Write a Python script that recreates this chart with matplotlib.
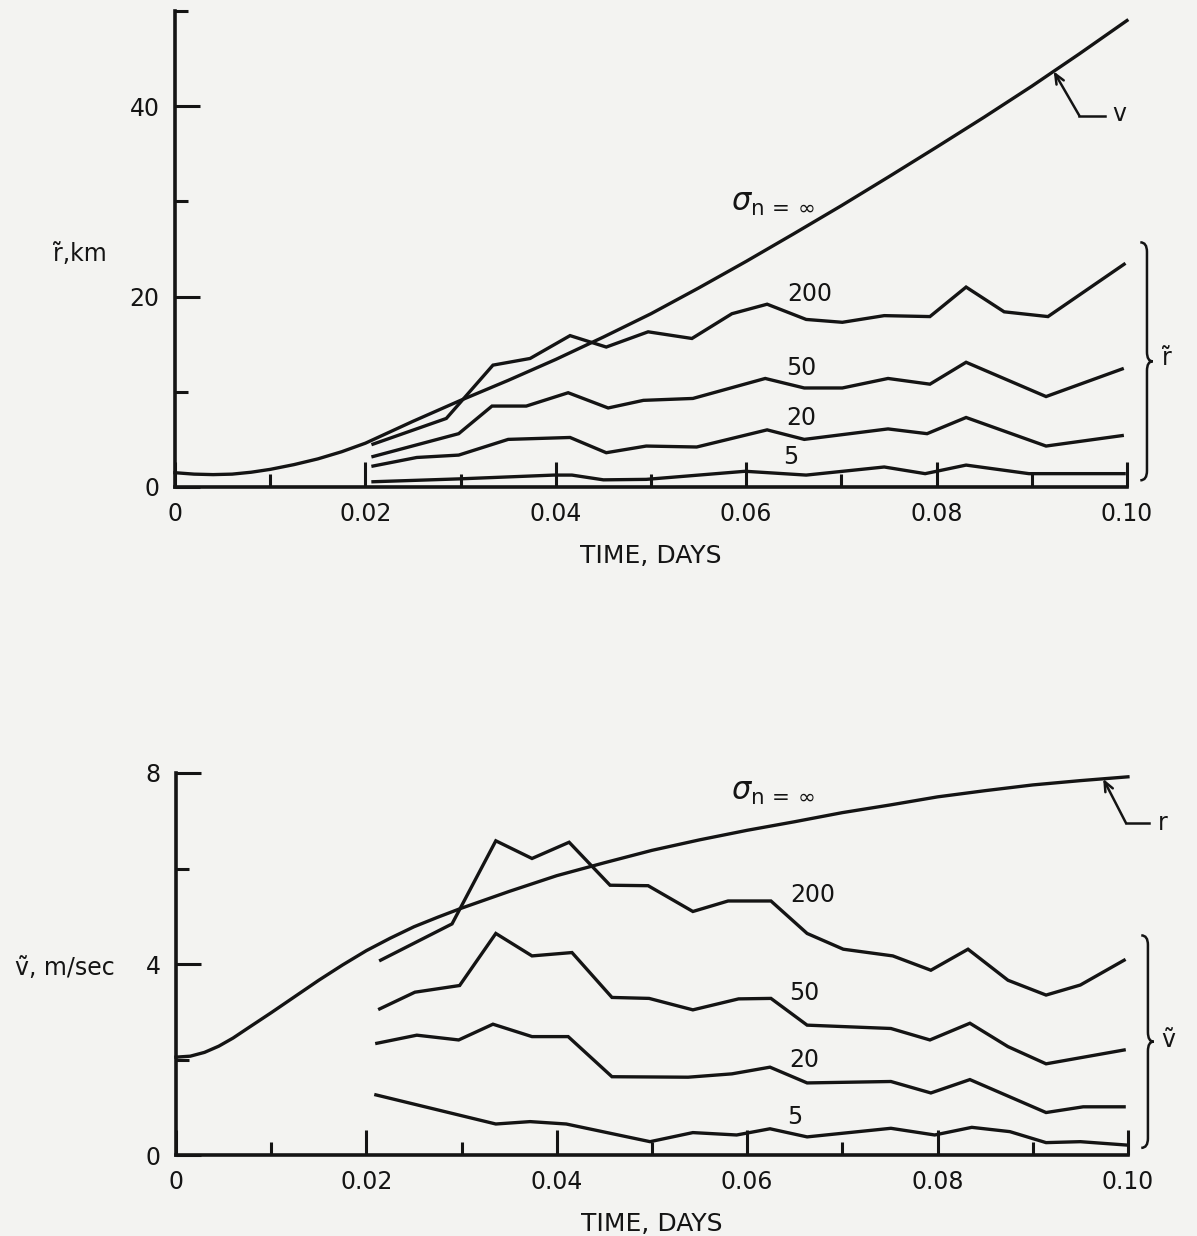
import numpy as np
import matplotlib
matplotlib.use("Agg")
import matplotlib.pyplot as plt
from matplotlib.path import Path
from matplotlib.patches import PathPatch

plt.rcParams['font.family'] = ['DejaVu Sans']
plt.rcParams['mathtext.fontset'] = 'dejavusans'

INK = '#141414'
PAPER = '#f3f3f1'

# ---- upper panel: r~ (km) vs time (days) ----
r_inf_t = [0, 0.002, 0.004, 0.006, 0.008, 0.01, 0.0125, 0.015, 0.0175, 0.02, 0.025,
           0.03, 0.035, 0.04, 0.045, 0.05, 0.055, 0.06, 0.065, 0.07, 0.075, 0.08,
           0.085, 0.09, 0.095, 0.10]
r_inf = [1.5, 1.35, 1.3, 1.35, 1.55, 1.85, 2.35, 2.95, 3.7, 4.6, 6.9, 9.1, 11.2,
         13.4, 15.75, 18.2, 20.9, 23.7, 26.6, 29.55, 32.6, 35.7, 38.85, 42.1, 45.5,
         49.0]

r200_t = [0.0208, 0.0285, 0.0334, 0.0373, 0.0415, 0.0453, 0.0497, 0.0543, 0.0585,
          0.0622, 0.0663, 0.0701, 0.0745, 0.0793, 0.0831, 0.0871, 0.0917, 0.0997]
r200 = [4.5, 7.2, 12.8, 13.5, 15.9, 14.7, 16.3, 15.6, 18.2, 19.2, 17.6, 17.3, 18.0,
        17.9, 21.0, 18.4, 17.9, 23.4]

r50_t = [0.0208, 0.0298, 0.0333, 0.0369, 0.0413, 0.0455, 0.0492, 0.0544, 0.0620,
         0.0661, 0.0701, 0.0749, 0.0793, 0.0831, 0.0915, 0.0995]
r50 = [3.2, 5.6, 8.5, 8.5, 9.9, 8.3, 9.1, 9.3, 11.4, 10.4, 10.4, 11.4, 10.8, 13.1,
       9.5, 12.4]

r20_t = [0.0208, 0.0254, 0.0298, 0.0350, 0.0415, 0.0453, 0.0495, 0.0548, 0.0622,
         0.0661, 0.0749, 0.0790, 0.0831, 0.0915, 0.0995]
r20 = [2.2, 3.1, 3.35, 5.0, 5.2, 3.6, 4.3, 4.2, 6.0, 5.0, 6.1, 5.6, 7.3, 4.3, 5.4]

r5_t = [0.0208, 0.0298, 0.0398, 0.0417, 0.0450, 0.0495, 0.0599, 0.0663, 0.0745,
        0.0788, 0.0831, 0.0897, 0.0997]
r5 = [0.55, 0.85, 1.25, 1.25, 0.75, 0.8, 1.65, 1.25, 2.1, 1.4, 2.3, 1.4, 1.4]

# ---- lower panel: v~ (m/sec) vs time (days) ----
v_inf_t = [0, 0.0015, 0.003, 0.0045, 0.006, 0.0075, 0.01, 0.0125, 0.015, 0.0175,
           0.02, 0.0225, 0.025, 0.0275, 0.03, 0.035, 0.04, 0.045, 0.05, 0.055, 0.06,
           0.065, 0.07, 0.075, 0.08, 0.085, 0.09, 0.095, 0.10]
v_inf = [2.05, 2.07, 2.15, 2.28, 2.45, 2.65, 2.98, 3.32, 3.66, 3.98, 4.28, 4.54,
         4.78, 4.98, 5.17, 5.52, 5.85, 6.12, 6.38, 6.6, 6.8, 6.98, 7.17, 7.33, 7.5,
         7.63, 7.75, 7.84, 7.92]

v200_t = [0.0215, 0.0290, 0.0336, 0.0374, 0.0413, 0.0456, 0.0496, 0.0543, 0.0580,
          0.0625, 0.0663, 0.0701, 0.0753, 0.0793, 0.0832, 0.0874, 0.0914, 0.0950, 0.0996]
v200 = [4.08, 4.84, 6.58, 6.21, 6.55, 5.65, 5.64, 5.10, 5.32, 5.32, 4.64, 4.31, 4.17,
        3.87, 4.31, 3.66, 3.35, 3.56, 4.08]

v50_t = [0.0214, 0.0251, 0.0298, 0.0336, 0.0374, 0.0416, 0.0458, 0.0497, 0.0543,
         0.0591, 0.0625, 0.0663, 0.0751, 0.0792, 0.0834, 0.0874, 0.0914, 0.0996]
v50 = [3.06, 3.41, 3.55, 4.64, 4.17, 4.24, 3.30, 3.28, 3.04, 3.27, 3.28, 2.72, 2.65,
       2.41, 2.76, 2.27, 1.91, 2.20]

v20_t = [0.0211, 0.0253, 0.0297, 0.0333, 0.0374, 0.0412, 0.0458, 0.0538, 0.0584,
         0.0624, 0.0663, 0.0751, 0.0793, 0.0834, 0.0914, 0.0953, 0.0996]
v20 = [2.34, 2.51, 2.41, 2.74, 2.48, 2.48, 1.64, 1.63, 1.70, 1.84, 1.51, 1.54, 1.30,
       1.58, 0.89, 1.01, 1.01]

v5_t = [0.0210, 0.0336, 0.0372, 0.0410, 0.0498, 0.0543, 0.0589, 0.0624, 0.0663,
        0.0751, 0.0797, 0.0836, 0.0876, 0.0914, 0.0950, 0.0998]
v5 = [1.26, 0.65, 0.70, 0.65, 0.28, 0.47, 0.42, 0.55, 0.38, 0.56, 0.42, 0.58, 0.49,
      0.26, 0.28, 0.21]

curve_labels = ['200', '50', '20', '5']

LW = 2.4
TXT = 17


def style_axes(ax, ymax, ymajor, yminor, yticklabels):
    ax.set_facecolor(PAPER)
    for s in ('top', 'right'):
        ax.spines[s].set_visible(False)
    for s in ('left', 'bottom'):
        ax.spines[s].set_linewidth(2.6)
        ax.spines[s].set_color(INK)
    ax.set_xlim(0, 0.10)
    ax.set_ylim(0, ymax)
    ax.set_xticks([0, 0.02, 0.04, 0.06, 0.08, 0.10])
    ax.set_xticklabels(['0', '0.02', '0.04', '0.06', '0.08', '0.10'])
    ax.set_xticks([0.01, 0.03, 0.05, 0.07, 0.09], minor=True)
    ax.set_yticks(ymajor)
    ax.set_yticklabels(yticklabels)
    ax.set_yticks(yminor, minor=True)
    ax.tick_params(which='major', direction='in', length=18, width=2.2,
                   color=INK, labelsize=TXT, labelcolor=INK, pad=11)
    ax.tick_params(which='minor', direction='in', length=9.5, width=2.2, color=INK)
    ax.set_xlabel('TIME, DAYS', fontsize=18, color=INK, labelpad=13)


def brace(ax, x, y0, y1, bend, tip=0.006, hook=0.007):
    # curly bracket opening to the left, x in axes fraction, y in data units
    ym = 0.5 * (y0 + y1)
    verts = [(x - hook, y1), (x, y1), (x, y1 - bend),
             (x, ym + bend),
             (x, ym), (x + tip, ym),
             (x, ym), (x, ym - bend),
             (x, y0 + bend),
             (x, y0), (x - hook, y0)]
    codes = [Path.MOVETO, Path.CURVE3, Path.CURVE3,
             Path.LINETO,
             Path.CURVE3, Path.CURVE3,
             Path.CURVE3, Path.CURVE3,
             Path.LINETO,
             Path.CURVE3, Path.CURVE3]
    patch = PathPatch(Path(verts, codes), fill=False, lw=1.8, color=INK,
                      transform=ax.get_yaxis_transform(), clip_on=False)
    ax.add_patch(patch)


fig = plt.figure(figsize=(11.97, 12.36), dpi=100, facecolor=PAPER)

# ---------------- upper panel ----------------
ax1 = fig.add_axes([0.1462, 0.6060, 0.7953, 0.3851])
style_axes(ax1, 50, [0, 20, 40], [10, 30, 50], ['0', '20', '40'])
ax1.plot(r_inf_t, r_inf, color=INK, lw=LW, clip_on=False)
for t, r in [(r200_t, r200), (r50_t, r50), (r20_t, r20), (r5_t, r5)]:
    ax1.plot(t, r, color=INK, lw=LW, solid_joinstyle='miter', clip_on=False)

ax1.text(0.0628, 29.8, r'$\sigma_{\mathrm{n}\,=\,\infty}$', fontsize=22, color=INK,
         ha='center', va='center')
for lab, (x, y) in zip(curve_labels, [(0.0667, 20.3), (0.0658, 12.5),
                                      (0.0658, 7.2), (0.0647, 3.1)]):
    ax1.text(x, y, lab, fontsize=TXT, color=INK, ha='center', va='center')

ax1.text(-0.072, 0.49, 'r\u0303,km', transform=ax1.transAxes, fontsize=TXT,
         color=INK, ha='right', va='center')

brace(ax1, 1.021, 0.7, 25.7, 1.0)
ax1.text(1.042, 13.6, 'r\u0303', fontsize=TXT, color=INK, ha='center', va='center',
         transform=ax1.get_yaxis_transform())

# pointer to the sigma = infinity curve
tip_t = 0.0923
ax1.plot([0.0950, 0.0977], [39.0, 39.0], color=INK, lw=1.8, clip_on=False)
ax1.annotate('', xy=(tip_t, np.interp(tip_t, r_inf_t, r_inf)), xytext=(0.0950, 39.0),
             arrowprops=dict(arrowstyle='->,head_length=0.7,head_width=0.3',
                             lw=1.8, color=INK, shrinkA=0, shrinkB=0))
ax1.text(0.0992, 39.2, 'v', fontsize=TXT, color=INK, ha='center', va='center',
         clip_on=False)

# ---------------- lower panel ----------------
ax2 = fig.add_axes([0.1470, 0.0655, 0.7953, 0.3091])
style_axes(ax2, 8, [0, 4, 8], [2, 6], ['0', '4', '8'])
ax2.plot(v_inf_t, v_inf, color=INK, lw=LW, clip_on=False)
for t, v in [(v200_t, v200), (v50_t, v50), (v20_t, v20), (v5_t, v5)]:
    ax2.plot(t, v, color=INK, lw=LW, solid_joinstyle='miter', clip_on=False)

ax2.text(0.0627, 7.6, r'$\sigma_{\mathrm{n}\,=\,\infty}$', fontsize=22, color=INK,
         ha='center', va='center')
for lab, (x, y) in zip(curve_labels, [(0.0669, 5.45), (0.0660, 3.39),
                                      (0.0660, 1.99), (0.0650, 0.80)]):
    ax2.text(x, y, lab, fontsize=TXT, color=INK, ha='center', va='center')

ax2.text(-0.064, 0.49, 'v\u0303, m/sec', transform=ax2.transAxes, fontsize=TXT,
         color=INK, ha='right', va='center')

brace(ax2, 1.021, 0.15, 4.6, 0.2)
ax2.text(1.042, 2.4, 'v\u0303', fontsize=TXT, color=INK, ha='center', va='center',
         transform=ax2.get_yaxis_transform())

tip_t = 0.0974
ax2.plot([0.0998, 0.1022], [6.95, 6.95], color=INK, lw=1.8, clip_on=False)
ax2.annotate('', xy=(tip_t, np.interp(tip_t, v_inf_t, v_inf)), xytext=(0.0998, 6.95),
             arrowprops=dict(arrowstyle='->,head_length=0.7,head_width=0.3',
                             lw=1.8, color=INK, shrinkA=0, shrinkB=0),
             annotation_clip=False)
ax2.text(0.1037, 6.95, 'r', fontsize=TXT, color=INK, ha='center', va='center',
         clip_on=False)

fig.savefig('out.png', dpi=100, facecolor=PAPER)
